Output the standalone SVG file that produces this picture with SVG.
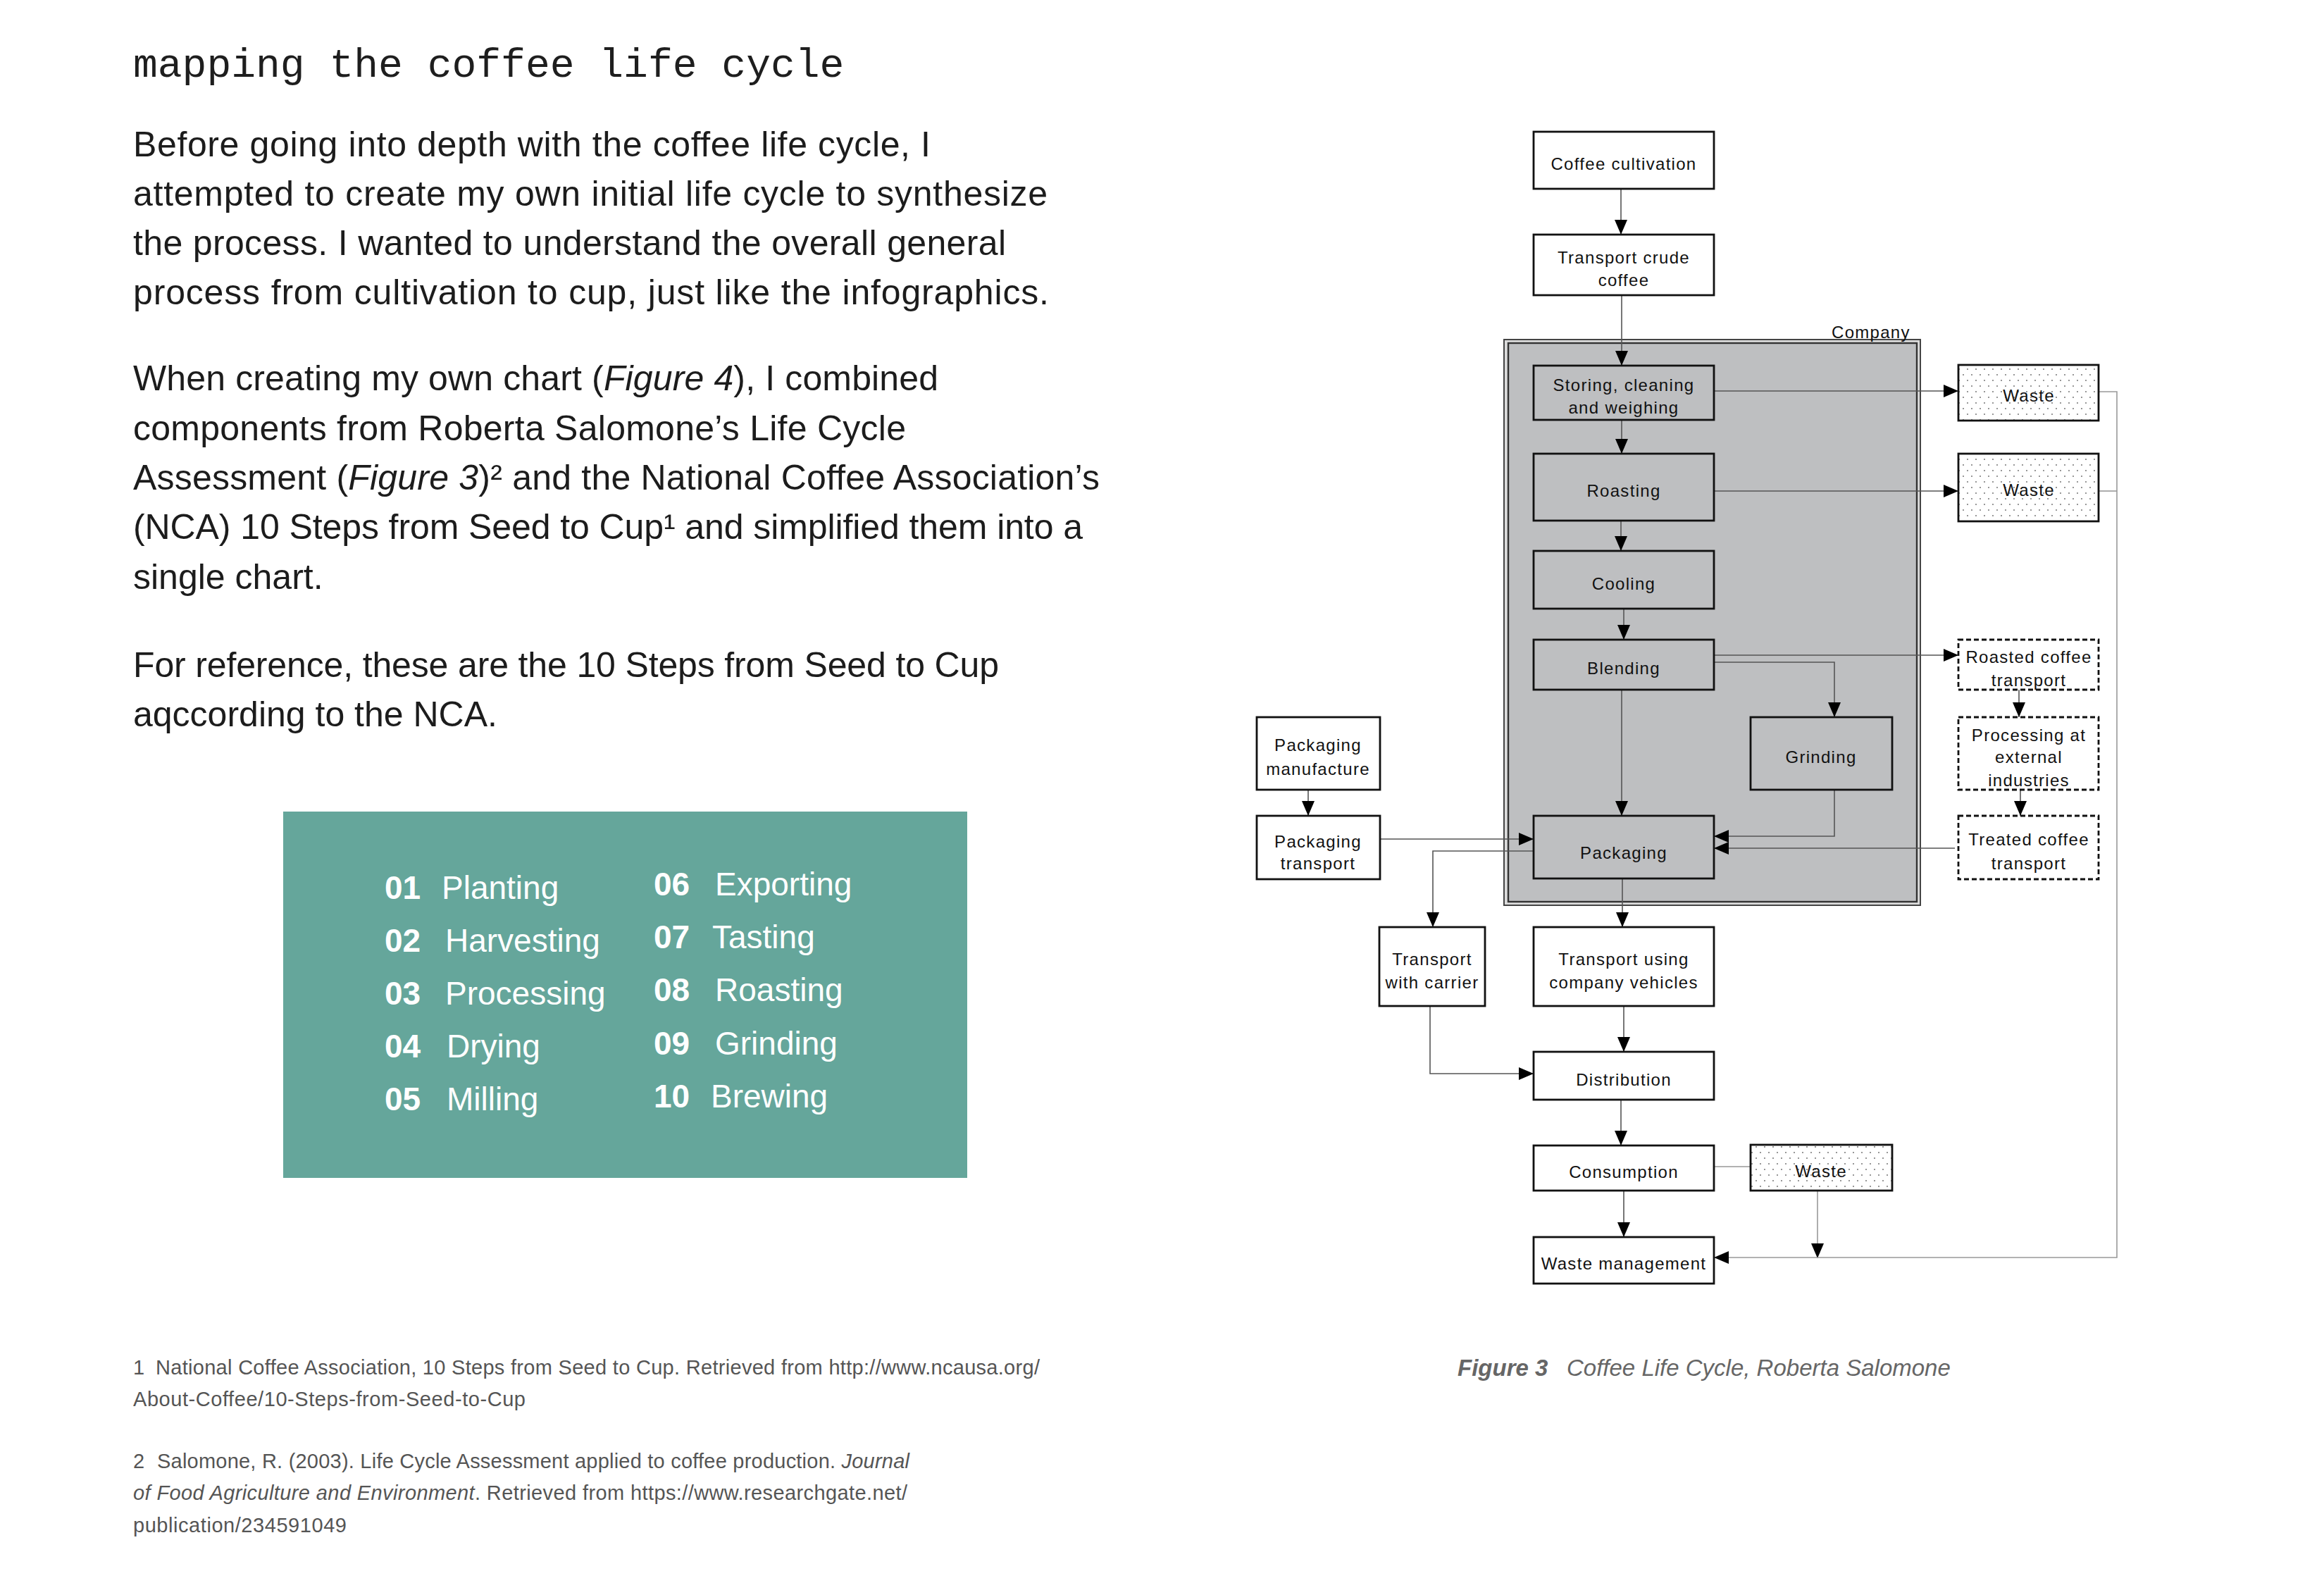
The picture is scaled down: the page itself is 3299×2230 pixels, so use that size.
<svg xmlns="http://www.w3.org/2000/svg" width="3299" height="2230" viewBox="0 0 3299 2230">
<style>
.title{font-family:"Liberation Mono","DejaVu Sans Mono",monospace;font-size:58px;fill:#1e1e1e}
.body{font-family:"Liberation Sans",Arial,sans-serif;font-size:50px;fill:#1c1c1c}
.it{font-style:italic}
.step{font-family:"Liberation Sans",Arial,sans-serif;font-size:46px;fill:#ffffff}
.num{font-weight:bold}
.foot{font-family:"Liberation Sans",Arial,sans-serif;font-size:29px;fill:#555555}
.cap{font-family:"Liberation Sans",Arial,sans-serif;font-size:33px;fill:#666666;font-style:italic}
.box{fill:#ffffff;stroke:#111111;stroke-width:2.8}
.gbox{fill:#bebfc1}
.dbox{stroke-dasharray:7 4}
.wbox{fill:url(#dots)}
.lbl{font-family:"Liberation Sans",Arial,sans-serif;font-size:24px;letter-spacing:1.3px;fill:#111111;text-anchor:middle}
.conn{fill:none;stroke:#555555;stroke-width:1.6}
.connl{fill:none;stroke:#999999;stroke-width:1.6}
</style>
<defs>
<pattern id="dots" patternUnits="userSpaceOnUse" width="12" height="16">
<rect width="12" height="16" fill="#ffffff"/>
<circle cx="3" cy="4" r="0.9" fill="#666666"/>
<circle cx="9" cy="12" r="0.9" fill="#666666"/>
</pattern>
<marker id="arr" markerUnits="userSpaceOnUse" markerWidth="21" markerHeight="18" refX="21" refY="9" orient="auto">
<path d="M0,0 L21,9 L0,18 Z" fill="#000000"/>
</marker>
</defs>
<rect width="3299" height="2230" fill="#ffffff"/>

<g id="text-left">
<text class="title" x="189" y="109">mapping the coffee life cycle</text>
<text class="body" x="189" y="222" textLength="1132" lengthAdjust="spacing">Before going into depth with the coffee life cycle, I</text>
<text class="body" x="189" y="292" textLength="1298" lengthAdjust="spacing">attempted to create my own initial life cycle to synthesize</text>
<text class="body" x="189" y="362" textLength="1239" lengthAdjust="spacing">the process. I wanted to understand the overall general</text>
<text class="body" x="189" y="432" textLength="1300" lengthAdjust="spacing">process from cultivation to cup, just like the infographics.</text>
<text class="body" x="189" y="554" textLength="1143" lengthAdjust="spacing">When creating my own chart (<tspan class="it">Figure 4</tspan>), I combined</text>
<text class="body" x="189" y="625" textLength="1097" lengthAdjust="spacing">components from Roberta Salomone’s Life Cycle</text>
<text class="body" x="189" y="695" textLength="1372" lengthAdjust="spacing">Assessment (<tspan class="it">Figure 3</tspan>)² and the National Coffee Association’s</text>
<text class="body" x="189" y="765" textLength="1348" lengthAdjust="spacing">(NCA) 10 Steps from Seed to Cup¹ and simplified them into a</text>
<text class="body" x="189" y="836">single chart.</text>
<text class="body" x="189" y="961" textLength="1229" lengthAdjust="spacing">For reference, these are the 10 Steps from Seed to Cup</text>
<text class="body" x="189" y="1031">aqccording to the NCA.</text>
</g>

<g id="steps-box">
<rect x="402" y="1152" width="971" height="520" fill="#65a69b"/>
<text class="step num" x="546" y="1276">01</text><text class="step" x="627" y="1276">Planting</text>
<text class="step num" x="546" y="1351">02</text><text class="step" x="632" y="1351">Harvesting</text>
<text class="step num" x="546" y="1426">03</text><text class="step" x="632" y="1426">Processing</text>
<text class="step num" x="546" y="1501">04</text><text class="step" x="634" y="1501">Drying</text>
<text class="step num" x="546" y="1576">05</text><text class="step" x="634" y="1576">Milling</text>
<text class="step num" x="928" y="1271">06</text><text class="step" x="1015" y="1271">Exporting</text>
<text class="step num" x="928" y="1346">07</text><text class="step" x="1011" y="1346">Tasting</text>
<text class="step num" x="928" y="1421">08</text><text class="step" x="1015" y="1421">Roasting</text>
<text class="step num" x="928" y="1497">09</text><text class="step" x="1015" y="1497">Grinding</text>
<text class="step num" x="928" y="1572">10</text><text class="step" x="1009" y="1572">Brewing</text>
</g>

<g id="footnotes">
<text class="foot" x="189" y="1951">1</text>
<text class="foot" x="221" y="1951" textLength="1255" lengthAdjust="spacing">National Coffee Association, 10 Steps from Seed to Cup. Retrieved from http://www.ncausa.org/</text>
<text class="foot" x="189" y="1996" textLength="557" lengthAdjust="spacing">About-Coffee/10-Steps-from-Seed-to-Cup</text>
<text class="foot" x="189" y="2084">2</text>
<text class="foot" x="223" y="2084" textLength="1068" lengthAdjust="spacing">Salomone, R. (2003). Life Cycle Assessment applied to coffee production. <tspan class="it">Journal</tspan></text>
<text class="foot" x="189" y="2129" textLength="1099" lengthAdjust="spacing"><tspan class="it">of Food Agriculture and Environment</tspan>. Retrieved from https://www.researchgate.net/</text>
<text class="foot" x="189" y="2175" textLength="303" lengthAdjust="spacing">publication/234591049</text>
</g>

<g id="company">
<rect x="2135" y="482" width="591" height="803" fill="#dcdcdc" stroke="#444444" stroke-width="2"/>
<rect x="2141" y="487" width="580" height="793" fill="#bebfc1" stroke="#333333" stroke-width="2.4"/>
<text class="lbl" x="2600" y="480" style="text-anchor:start">Company</text>
</g>

<g id="connectors">
<path class="conn" d="M2301,268 V333" marker-end="url(#arr)"/>
<path class="conn" d="M2302,419 V519" marker-end="url(#arr)"/>
<path class="conn" d="M2302,596 V644" marker-end="url(#arr)"/>
<path class="conn" d="M2301,739 V782" marker-end="url(#arr)"/>
<path class="conn" d="M2305,864 V908" marker-end="url(#arr)"/>
<path class="conn" d="M2302,979 V1158" marker-end="url(#arr)"/>
<path class="conn" d="M2303,1247 V1316" marker-end="url(#arr)"/>
<path class="conn" d="M2305,1428 V1493" marker-end="url(#arr)"/>
<path class="conn" d="M2301,1561 V1626" marker-end="url(#arr)"/>
<path class="conn" d="M2305,1690 V1756" marker-end="url(#arr)"/>
<path class="conn" d="M2433,555 H2780" marker-end="url(#arr)"/>
<path class="conn" d="M2433,697 H2780" marker-end="url(#arr)"/>
<path class="conn" d="M2433,930 H2780" marker-end="url(#arr)"/>
<path class="conn" d="M2433,940 H2604 V1018" marker-end="url(#arr)"/>
<path class="conn" d="M2604,1121 V1187 H2433" marker-end="url(#arr)"/>
<path class="conn" d="M2775,1204 H2433" marker-end="url(#arr)"/>
<path class="conn" d="M2866,979 V1018" marker-end="url(#arr)"/>
<path class="conn" d="M2868,1121 V1158" marker-end="url(#arr)"/>
<path class="conn" d="M1857,1121 V1158" marker-end="url(#arr)"/>
<path class="conn" d="M1959,1191 H2177" marker-end="url(#arr)"/>
<path class="conn" d="M2177,1208 H2034 V1316" marker-end="url(#arr)"/>
<path class="conn" d="M2030,1428 V1524 H2177" marker-end="url(#arr)"/>
<path class="connl" d="M2433,1656 H2485"/>
<path class="connl" d="M2580,1690 V1786" marker-end="url(#arr)"/>
<path class="connl" d="M2979,556 H3005 V1785 H2433" marker-end="url(#arr)"/>
<path class="connl" d="M2979,697 H3005"/>
</g>

<g id="coffee-cultivation"><rect class="box" x="2177" y="187" width="256" height="81"/><text class="lbl" x="2305" y="241">Coffee cultivation</text></g>
<g id="transport-crude-coffee"><rect class="box" x="2177" y="333" width="256" height="86"/><text class="lbl" x="2305" y="374">Transport crude</text><text class="lbl" x="2305" y="406">coffee</text></g>
<g id="storing"><rect class="box gbox" x="2177" y="519" width="256" height="77"/><text class="lbl" x="2305" y="555">Storing, cleaning</text><text class="lbl" x="2305" y="587">and weighing</text></g>
<g id="roasting"><rect class="box gbox" x="2177" y="644" width="256" height="95"/><text class="lbl" x="2305" y="705">Roasting</text></g>
<g id="cooling"><rect class="box gbox" x="2177" y="782" width="256" height="82"/><text class="lbl" x="2305" y="837">Cooling</text></g>
<g id="blending"><rect class="box gbox" x="2177" y="908" width="256" height="71"/><text class="lbl" x="2305" y="957">Blending</text></g>
<g id="grinding"><rect class="box gbox" x="2485" y="1018" width="201" height="103"/><text class="lbl" x="2585" y="1083">Grinding</text></g>
<g id="packaging"><rect class="box gbox" x="2177" y="1158" width="256" height="89"/><text class="lbl" x="2305" y="1219">Packaging</text></g>
<g id="packaging-manufacture"><rect class="box" x="1784" y="1018" width="175" height="103"/><text class="lbl" x="1871" y="1066">Packaging</text><text class="lbl" x="1871" y="1100">manufacture</text></g>
<g id="packaging-transport"><rect class="box" x="1784" y="1158" width="175" height="90"/><text class="lbl" x="1871" y="1203">Packaging</text><text class="lbl" x="1871" y="1234">transport</text></g>
<g id="transport-carrier"><rect class="box" x="1958" y="1316" width="150" height="112"/><text class="lbl" x="2033" y="1370">Transport</text><text class="lbl" x="2033" y="1403">with carrier</text></g>
<g id="transport-company"><rect class="box" x="2177" y="1316" width="256" height="112"/><text class="lbl" x="2305" y="1370">Transport using</text><text class="lbl" x="2305" y="1403">company vehicles</text></g>
<g id="distribution"><rect class="box" x="2177" y="1493" width="256" height="68"/><text class="lbl" x="2305" y="1541">Distribution</text></g>
<g id="consumption"><rect class="box" x="2177" y="1626" width="256" height="64"/><text class="lbl" x="2305" y="1672">Consumption</text></g>
<g id="waste-management"><rect class="box" x="2177" y="1756" width="256" height="66"/><text class="lbl" x="2305" y="1802">Waste management</text></g>
<g id="waste-1"><rect class="box wbox" x="2780" y="518" width="199" height="79"/><text class="lbl" x="2880" y="570">Waste</text></g>
<g id="waste-2"><rect class="box wbox" x="2780" y="644" width="199" height="96"/><text class="lbl" x="2880" y="704">Waste</text></g>
<g id="waste-3"><rect class="box wbox" x="2485" y="1625" width="201" height="65"/><text class="lbl" x="2585" y="1671">Waste</text></g>
<g id="roasted-coffee-transport"><rect class="box dbox" x="2780" y="908" width="199" height="71"/><text class="lbl" x="2880" y="941">Roasted coffee</text><text class="lbl" x="2880" y="974">transport</text></g>
<g id="processing-external"><rect class="box dbox" x="2780" y="1018" width="199" height="103"/><text class="lbl" x="2880" y="1052">Processing at</text><text class="lbl" x="2880" y="1083">external</text><text class="lbl" x="2880" y="1116">industries</text></g>
<g id="treated-coffee-transport"><rect class="box dbox" x="2780" y="1158" width="199" height="90"/><text class="lbl" x="2880" y="1200">Treated coffee</text><text class="lbl" x="2880" y="1234">transport</text></g>

<g id="caption">
<text class="cap" x="2069" y="1953"><tspan font-weight="bold">Figure 3</tspan></text>
<text class="cap" x="2224" y="1953">Coffee Life Cycle, Roberta Salomone</text>
</g>
</svg>
